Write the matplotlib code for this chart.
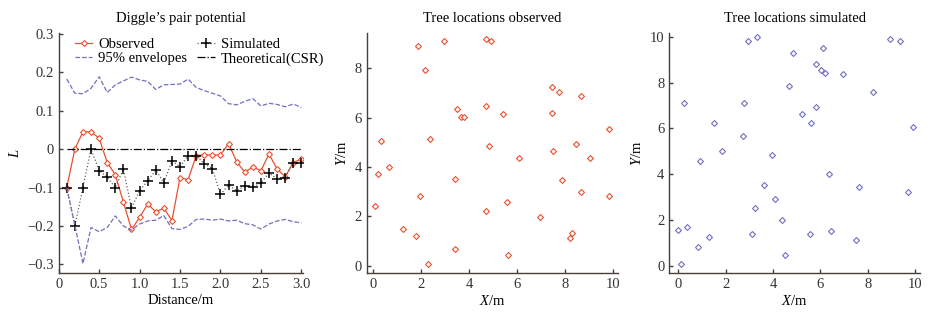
import numpy as np
import matplotlib
matplotlib.use('Agg')
import matplotlib.pyplot as plt

plt.rcParams['font.family'] = ['Liberation Serif', 'DejaVu Serif']
plt.rcParams['mathtext.fontset'] = 'custom'
plt.rcParams['mathtext.rm'] = 'Liberation Serif'
plt.rcParams['mathtext.it'] = 'Liberation Serif:italic'
plt.rcParams['axes.unicode_minus'] = True

# Diggle's pair potential
dist = [0.1, 0.2, 0.3, 0.4, 0.5, 0.6, 0.7, 0.8, 0.9, 1.0,
        1.1, 1.2, 1.3, 1.4, 1.5, 1.6, 1.7, 1.8, 1.9, 2.0,
        2.1, 2.2, 2.3, 2.4, 2.5, 2.6, 2.7, 2.8, 2.9, 3.0]
observed = [-0.100, 0.000, 0.045, 0.045, 0.028, -0.035, -0.067, -0.138, -0.209, -0.178,
            -0.143, -0.163, -0.154, -0.186, -0.074, -0.080, -0.017, -0.015, -0.016, -0.015,
            0.014, -0.033, -0.060, -0.047, -0.056, -0.013, -0.052, -0.072, -0.035, -0.026]
simulated = [-0.100, -0.200, -0.100, 0.000, -0.056, -0.073, -0.100, -0.052, -0.154, -0.108,
             -0.083, -0.055, -0.087, -0.031, -0.046, -0.017, -0.017, -0.038, -0.051, -0.118,
             -0.094, -0.108, -0.097, -0.099, -0.088, -0.063, -0.077, -0.074, -0.035, -0.037]
env_upper = [0.182, 0.145, 0.144, 0.158, 0.188, 0.147, 0.167, 0.177, 0.187, 0.180,
             0.176, 0.155, 0.167, 0.168, 0.169, 0.182, 0.160, 0.152, 0.145, 0.138,
             0.118, 0.115, 0.124, 0.131, 0.112, 0.119, 0.116, 0.110, 0.117, 0.108]
env_lower = [-0.100, -0.198, -0.298, -0.204, -0.215, -0.204, -0.174, -0.200, -0.211, -0.195,
             -0.187, -0.185, -0.173, -0.207, -0.209, -0.201, -0.183, -0.182, -0.185, -0.182,
             -0.187, -0.185, -0.194, -0.197, -0.208, -0.195, -0.187, -0.183, -0.189, -0.192]

# Tree locations observed
obs_x = [1.88, 2.17, 2.97, 4.69, 4.93, 7.45, 7.77, 8.66, 3.50, 3.68,
         3.80, 4.69, 5.42, 7.48, 9.86, 0.33, 2.35, 4.83, 7.49, 8.47,
         6.07, 9.04, 0.18, 0.65, 3.40, 7.86, 8.66, 9.86, 1.95, 0.08,
         4.69, 5.60, 6.95, 1.23, 1.80, 3.40, 2.27, 5.63, 8.29, 8.22]
obs_y = [8.93, 7.93, 9.12, 9.19, 9.12, 7.25, 7.05, 6.89, 6.36, 6.04,
         6.03, 6.48, 6.15, 6.21, 5.56, 5.05, 5.13, 4.86, 4.65, 4.93,
         4.35, 4.38, 3.73, 4.00, 3.51, 3.49, 2.97, 2.84, 2.81, 2.41,
         2.23, 2.57, 1.99, 1.49, 1.19, 0.69, 0.08, 0.45, 1.34, 1.12]

# Tree locations simulated
sim_x = [2.96, 3.31, 8.93, 9.37, 4.82, 6.11, 5.83, 6.03, 6.18, 6.96,
         4.66, 8.21, 0.24, 2.79, 5.80, 5.23, 5.61, 1.49, 9.89, 2.75,
         1.83, 3.96, 0.90, 6.38, 7.62, 9.68, 3.61, 4.08, 3.25, 4.39,
         -0.01, 0.35, 1.31, 0.82, 0.11, 3.11, 5.54, 6.45, 7.51, 4.52]
sim_y = [9.82, 10.00, 9.93, 9.82, 9.28, 9.53, 8.81, 8.54, 8.44, 8.40,
         7.87, 7.60, 7.10, 7.10, 6.94, 6.62, 6.24, 6.25, 6.07, 5.65,
         5.03, 4.83, 4.57, 4.00, 3.42, 3.24, 3.52, 2.92, 2.53, 1.99,
         1.57, 1.67, 1.27, 0.81, 0.09, 1.37, 1.40, 1.51, 1.12, 0.48]

red = '#e8502e'
blue = '#7070c0'
spine_c = '#4a3f38'

fig = plt.figure(figsize=(9.3, 3.16), dpi=100)
ax1 = fig.add_axes([0.0631, 0.136, 0.2627, 0.758])
ax2 = fig.add_axes([0.3943, 0.136, 0.2702, 0.758])
ax3 = fig.add_axes([0.7197, 0.136, 0.2695, 0.758])


def style(ax):
    for s in ['top', 'right']:
        ax.spines[s].set_visible(False)
    for s in ['left', 'bottom']:
        ax.spines[s].set_color(spine_c)
        ax.spines[s].set_linewidth(1.0)
    ax.tick_params(direction='in', length=3, width=1, color=spine_c,
                   labelsize=10.5, labelcolor='#333333')


# panel 1
l_obs, = ax1.plot(dist, observed, '-', color=red, lw=0.9, marker='D', ms=3,
                  mfc='white', mec=red, mew=0.8, label='Observed')
l_sim, = ax1.plot(dist, simulated, ':', color='#666666', lw=0.9, marker='+',
                  ms=7, mec='black', mew=1.1, label='Simulated')
l_env, = ax1.plot(dist, env_upper, '--', color=blue, lw=0.9, label='95% envelopes')
ax1.plot(dist, env_lower, '--', color=blue, lw=0.9)
l_csr, = ax1.plot([dist[0], dist[-1]], [0, 0], '-.', color='black', lw=0.9,
                  label='Theoretical(CSR)')
ax1.set_xlim(0, 3.02)
ax1.set_ylim(-0.3224, 0.3005)
ax1.set_xticks([0, 0.5, 1.0, 1.5, 2.0, 2.5, 3.0])
ax1.set_xticklabels(['0', '0.5', '1.0', '1.5', '2.0', '2.5', '3.0'])
ax1.set_yticks([-0.3, -0.2, -0.1, 0, 0.1, 0.2, 0.3])
ax1.set_yticklabels(['\u22120.3', '\u22120.2', '\u22120.1', '0', '0.1', '0.2', '0.3'])
ax1.set_xlabel('Distance/m', fontsize=10.5, labelpad=2)
ax1.set_ylabel('$L$', fontsize=10.5, labelpad=4)
ax1.set_title('Diggle\u2019s pair potential', fontsize=10.5, pad=8)
ax1.legend(handles=[l_obs, l_env, l_sim, l_csr], ncol=2, frameon=False,
           loc='upper left', bbox_to_anchor=(0.03, 1.02), fontsize=10.5,
           handlelength=1.2, handletextpad=0.4, columnspacing=0.7,
           labelspacing=0.1, borderaxespad=0.2)
style(ax1)

# panel 2
ax2.scatter(obs_x, obs_y, marker='D', s=9, facecolors='white',
            edgecolors=red, linewidths=0.8)
ax2.set_xlim(-0.28, 10.22)
ax2.set_ylim(-0.30, 9.42)
ax2.set_xticks([0, 2, 4, 6, 8, 10])
ax2.set_yticks([0, 2, 4, 6, 8])
ax2.set_xlabel('$X$/m', fontsize=10.5, labelpad=2)
ax2.set_ylabel('$Y$/m', fontsize=10.5, labelpad=4)
ax2.set_title('Tree locations observed', fontsize=10.5, pad=8)
style(ax2)

# panel 3
ax3.scatter(sim_x, sim_y, marker='D', s=9, facecolors='white',
            edgecolors=blue, linewidths=0.8)
ax3.set_xlim(-0.38, 10.2)
ax3.set_ylim(-0.32, 10.15)
ax3.set_xticks([0, 2, 4, 6, 8, 10])
ax3.set_yticks([0, 2, 4, 6, 8, 10])
ax3.set_xlabel('$X$/m', fontsize=10.5, labelpad=2)
ax3.set_ylabel('$Y$/m', fontsize=10.5, labelpad=4)
ax3.set_title('Tree locations simulated', fontsize=10.5, pad=8)
style(ax3)

fig.savefig('out.png', dpi=100)
